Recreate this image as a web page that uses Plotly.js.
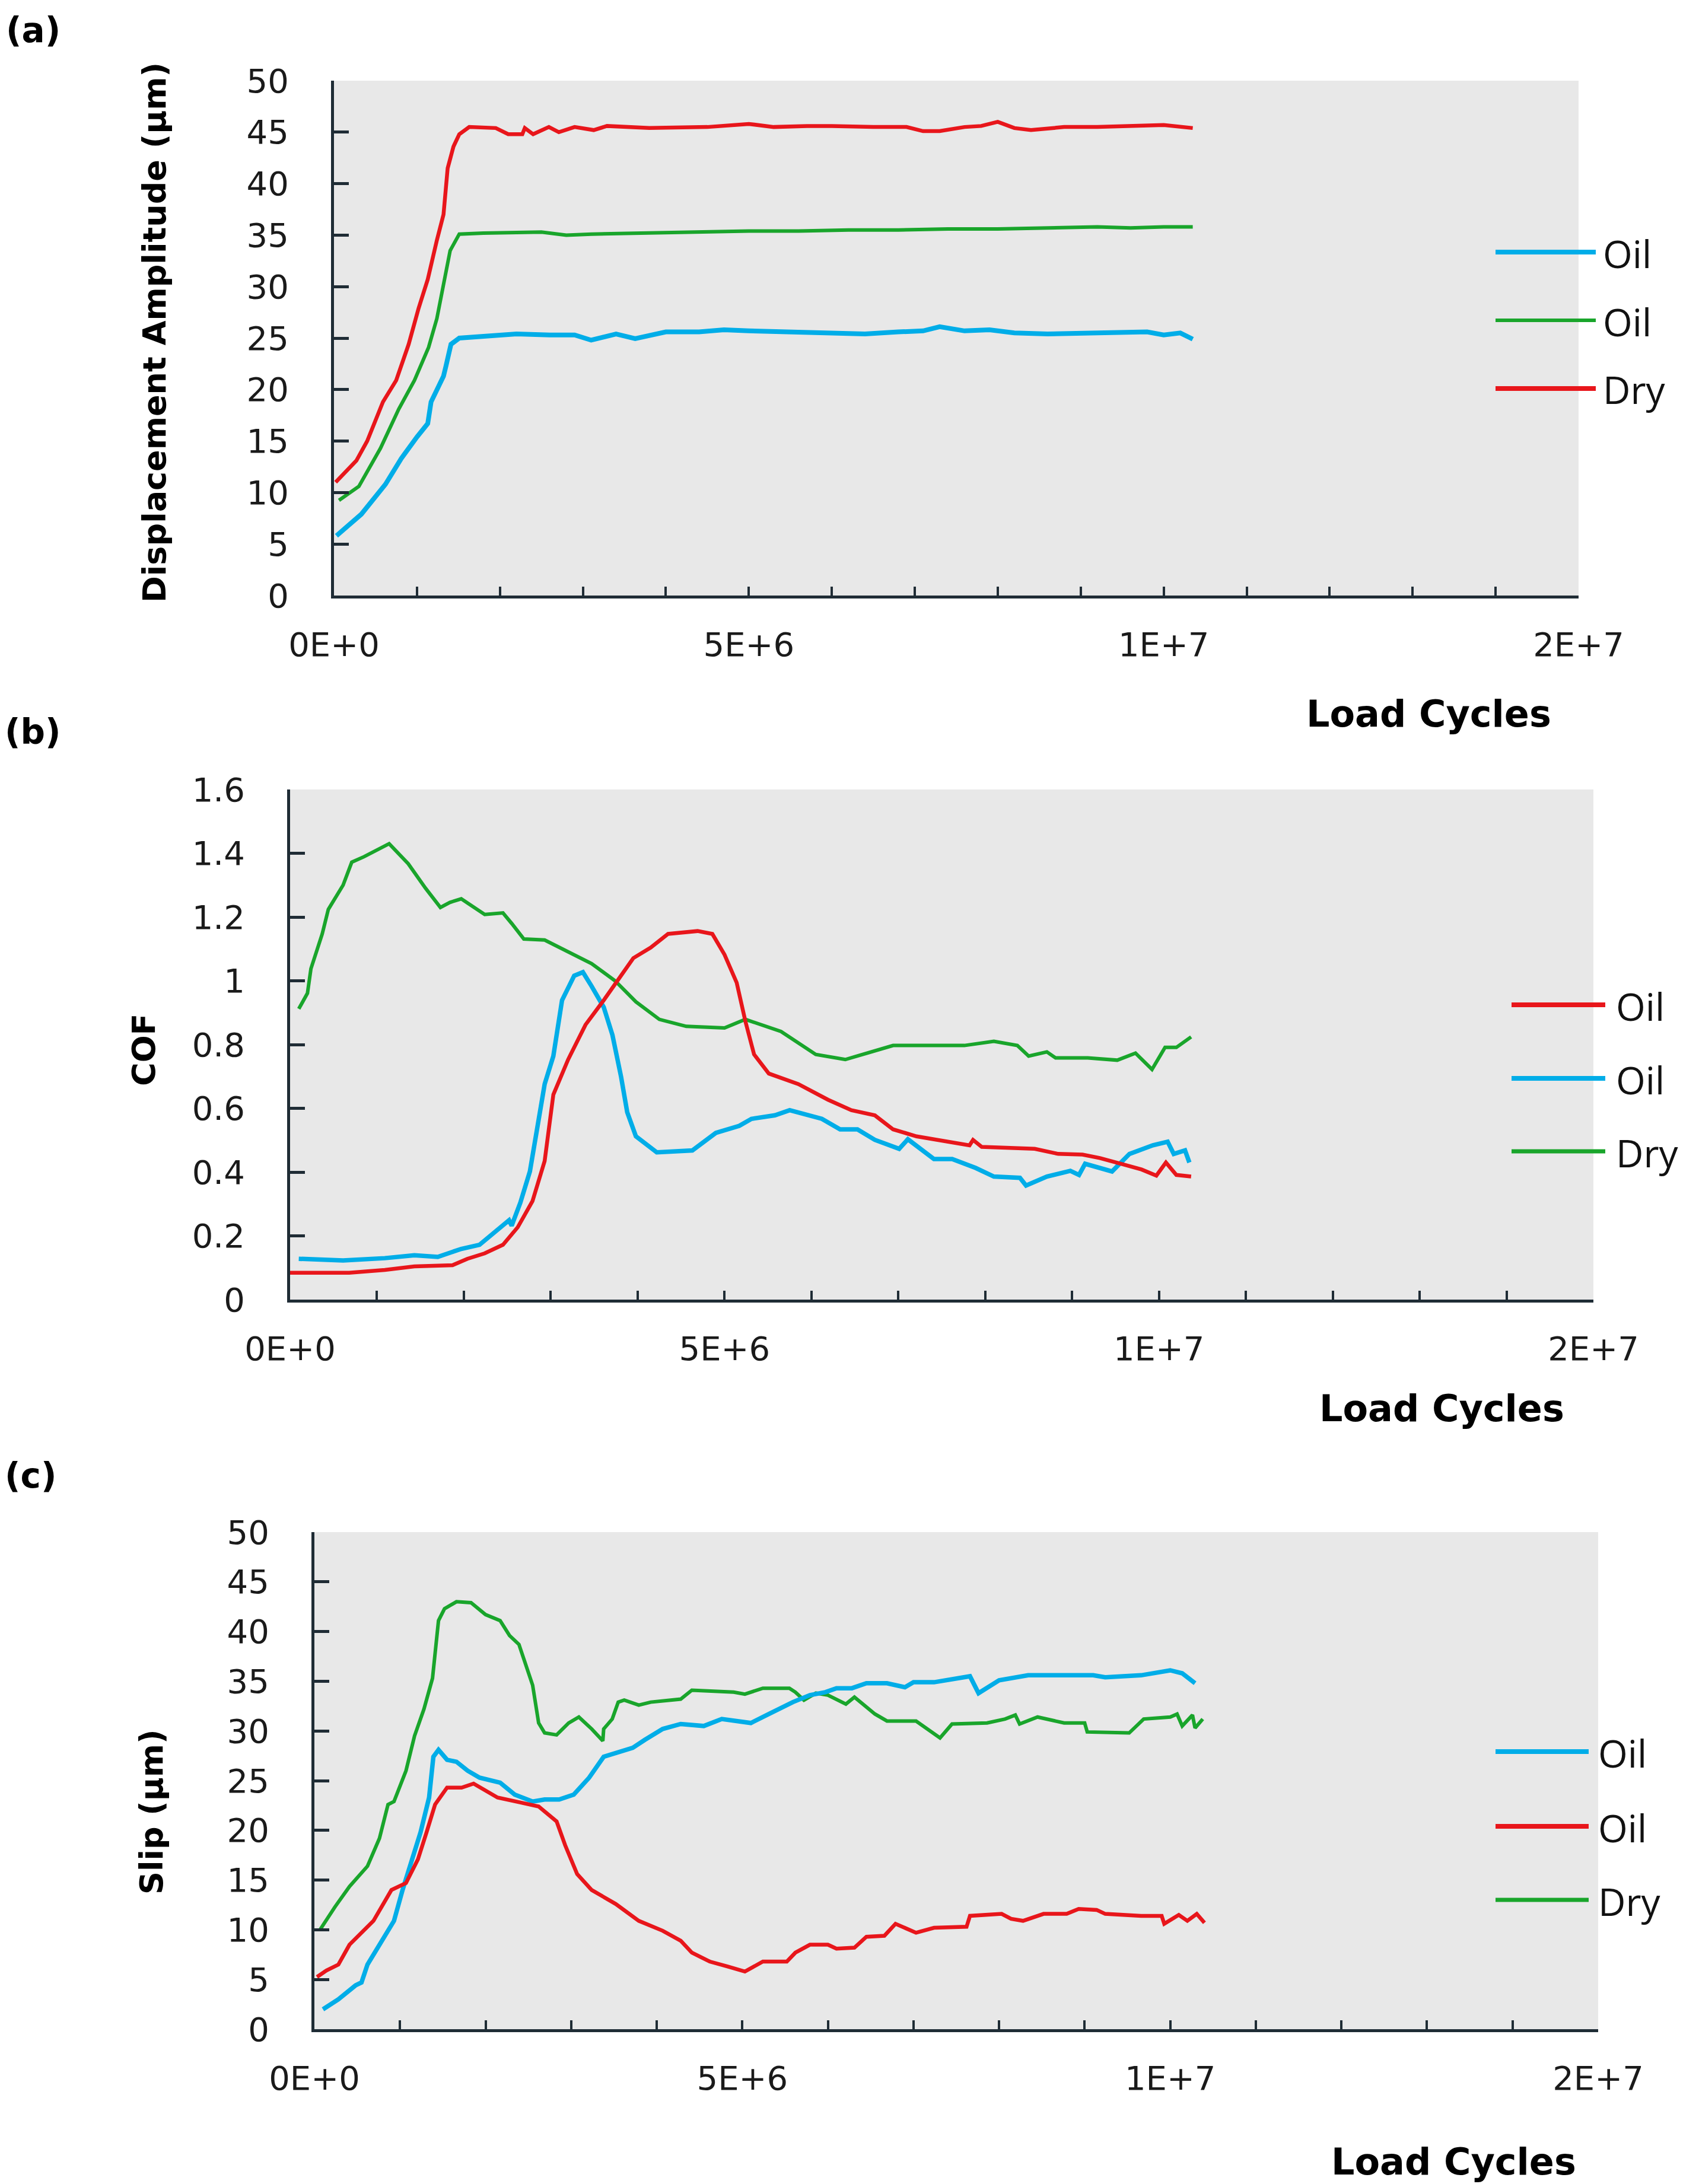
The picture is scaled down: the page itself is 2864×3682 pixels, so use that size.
<!DOCTYPE html>
<html>
<head>
<meta charset="utf-8">
<script src="https://cdn.plot.ly/plotly-3.0.1.min.js"></script>
<style>html,body{margin:0;padding:0;background:#fff;} #chart{width:2864px;height:3682px;}</style>
</head>
<body>
<div id="chart"></div>
<script>
// ---------------- DATA ----------------
// Panel (a) Displacement Amplitude (µm)
const aOilBlueX = [0.03e6,0.33e6,0.62e6,0.81e6,1.0e6,1.13e6,1.17e6,1.32e6,1.35e6,1.41e6,1.51e6,1.79e6,2.2e6,2.6e6,2.9e6,3.1e6,3.4e6,3.63e6,4.0e6,4.4e6,4.7e6,5.0e6,5.5e6,5.9e6,6.4e6,6.8e6,7.1e6,7.3e6,7.6e6,7.9e6,8.2e6,8.6e6,9.0e6,9.4e6,9.8e6,10.0e6,10.2e6,10.35e6];
const aOilBlueY = [5.8,7.9,10.8,13.3,15.4,16.7,18.8,21.3,22.3,24.4,25.0,25.2,25.4,25.3,25.3,24.8,25.4,24.95,25.6,25.6,25.8,25.7,25.6,25.5,25.4,25.6,25.7,26.1,25.7,25.8,25.5,25.4,25.5,25.5,25.6,25.3,25.5,24.9];

const aOilGreenX = [0.06e6,0.3e6,0.56e6,0.78e6,0.97e6,1.14e6,1.24e6,1.32e6,1.4e6,1.51e6,1.8e6,2.5e6,2.8e6,3.1e6,3.6e6,4.2e6,5.0e6,5.6e6,6.2e6,6.8e6,7.4e6,8.0e6,8.6e6,9.2e6,9.6e6,10.0e6,10.35e6];
const aOilGreenY = [9.25,10.6,14.3,18.1,20.9,24.1,26.9,30.0,33.5,35.1,35.2,35.3,35.0,35.1,35.2,35.3,35.4,35.4,35.5,35.5,35.6,35.6,35.7,35.8,35.7,35.8,35.8];

const aDryX = [0.02e6,0.27e6,0.4e6,0.59e6,0.75e6,0.9e6,1.02e6,1.13e6,1.24e6,1.32e6,1.37e6,1.44e6,1.51e6,1.63e6,1.95e6,2.1e6,2.27e6,2.3e6,2.4e6,2.59e6,2.71e6,2.9e6,3.13e6,3.29e6,3.8e6,4.5e6,5.0e6,5.3e6,5.7e6,6.0e6,6.5e6,6.9e6,7.1e6,7.3e6,7.6e6,7.8e6,8.0e6,8.2e6,8.4e6,8.8e6,9.2e6,9.6e6,10.0e6,10.35e6];
const aDryY = [11.0,13.1,15.0,18.8,20.9,24.4,27.9,30.7,34.5,37.0,41.5,43.6,44.8,45.5,45.4,44.8,44.8,45.4,44.8,45.5,45.0,45.5,45.2,45.6,45.4,45.5,45.8,45.5,45.6,45.6,45.5,45.5,45.1,45.1,45.5,45.6,46.0,45.4,45.2,45.5,45.5,45.6,45.7,45.4];

// Panel (b) COF
const bOilRedX = [0,0.68e6,1.09e6,1.43e6,1.87e6,2.04e6,2.24e6,2.45e6,2.62e6,2.79e6,2.93e6,3.03e6,3.2e6,3.4e6,3.61e6,3.78e6,3.95e6,4.15e6,4.35e6,4.69e6,4.86e6,5.0e6,5.14e6,5.24e6,5.34e6,5.51e6,5.85e6,6.19e6,6.46e6,6.73e6,6.94e6,7.21e6,7.55e6,7.82e6,7.86e6,7.96e6,8.57e6,8.84e6,9.12e6,9.32e6,9.59e6,9.8e6,9.97e6,10.08e6,10.2e6,10.37e6];
const bOilRedY = [0.084,0.084,0.093,0.104,0.108,0.128,0.145,0.172,0.227,0.309,0.435,0.643,0.753,0.862,0.939,1.005,1.071,1.104,1.147,1.156,1.147,1.082,0.994,0.873,0.769,0.709,0.676,0.627,0.594,0.578,0.534,0.512,0.495,0.484,0.501,0.479,0.473,0.457,0.455,0.444,0.424,0.408,0.389,0.43,0.391,0.386];

const bOilBlueX = [0.1e6,0.61e6,1.09e6,1.43e6,1.7e6,1.97e6,2.18e6,2.38e6,2.52e6,2.55e6,2.65e6,2.76e6,2.86e6,2.93e6,3.03e6,3.13e6,3.27e6,3.37e6,3.47e6,3.61e6,3.71e6,3.81e6,3.88e6,3.98e6,4.22e6,4.63e6,4.9e6,5.17e6,5.31e6,5.58e6,5.75e6,5.92e6,6.12e6,6.33e6,6.53e6,6.73e6,7.01e6,7.11e6,7.28e6,7.41e6,7.62e6,7.89e6,8.1e6,8.4e6,8.47e6,8.71e6,8.98e6,9.08e6,9.15e6,9.46e6,9.66e6,9.93e6,10.1e6,10.17e6,10.3e6,10.35e6];
const bOilBlueY = [0.128,0.123,0.130,0.139,0.134,0.159,0.172,0.216,0.249,0.232,0.304,0.402,0.567,0.676,0.764,0.939,1.016,1.027,0.983,0.917,0.83,0.698,0.588,0.512,0.462,0.468,0.523,0.545,0.567,0.578,0.594,0.583,0.567,0.534,0.534,0.501,0.473,0.503,0.468,0.441,0.441,0.413,0.386,0.382,0.358,0.386,0.404,0.391,0.426,0.402,0.457,0.484,0.495,0.457,0.468,0.43];

const bDryX = [0.1e6,0.2e6,0.24e6,0.37e6,0.44e6,0.61e6,0.71e6,0.85e6,1.14e6,1.36e6,1.56e6,1.73e6,1.84e6,1.97e6,2.24e6,2.45e6,2.55e6,2.69e6,2.93e6,3.1e6,3.47e6,3.74e6,3.98e6,4.25e6,4.56e6,5.0e6,5.24e6,5.65e6,6.05e6,6.39e6,6.73e6,6.94e6,7.76e6,8.1e6,8.37e6,8.5e6,8.71e6,8.81e6,9.18e6,9.52e6,9.73e6,9.92e6,10.07e6,10.2e6,10.37e6];
const bDryY = [0.912,0.961,1.038,1.147,1.224,1.30,1.372,1.389,1.430,1.367,1.29,1.23,1.246,1.257,1.208,1.213,1.18,1.131,1.128,1.104,1.054,1.0,0.934,0.879,0.857,0.852,0.879,0.841,0.769,0.753,0.78,0.797,0.797,0.81,0.797,0.764,0.777,0.758,0.758,0.751,0.773,0.722,0.791,0.791,0.824];

// Panel (c) Slip (µm)
const cOilBlueX = [0.1e6,0.28e6,0.48e6,0.55e6,0.62e6,0.76e6,0.93e6,1.03e6,1.14e6,1.24e6,1.34e6,1.39e6,1.45e6,1.55e6,1.66e6,1.79e6,1.93e6,2.17e6,2.34e6,2.55e6,2.69e6,2.86e6,3.03e6,3.21e6,3.38e6,3.55e6,3.72e6,3.86e6,4.07e6,4.28e6,4.55e6,4.76e6,5.1e6,5.31e6,5.59e6,5.79e6,5.97e6,6.1e6,6.28e6,6.45e6,6.69e6,6.9e6,7.0e6,7.24e6,7.38e6,7.66e6,7.76e6,8.0e6,8.34e6,9.1e6,9.24e6,9.66e6,10.0e6,10.14e6,10.29e6];
const cOilBlueY = [2.0,3.0,4.4,4.7,6.5,8.5,10.9,14.0,17.1,19.8,23.3,27.4,28.1,27.1,26.9,26.0,25.3,24.8,23.6,22.9,23.1,23.1,23.6,25.3,27.4,27.9,28.3,29.1,30.2,30.7,30.5,31.2,30.8,31.7,32.9,33.6,33.9,34.3,34.3,34.8,34.8,34.4,34.9,34.9,35.1,35.5,33.8,35.1,35.6,35.6,35.4,35.6,36.1,35.8,34.8];

const cOilRedX = [0.03e6,0.14e6,0.28e6,0.41e6,0.69e6,0.9e6,1.07e6,1.21e6,1.31e6,1.41e6,1.55e6,1.72e6,1.86e6,2.0e6,2.14e6,2.41e6,2.62e6,2.83e6,2.93e6,3.07e6,3.24e6,3.52e6,3.79e6,4.07e6,4.28e6,4.41e6,4.62e6,4.83e6,5.03e6,5.24e6,5.52e6,5.62e6,5.79e6,6.0e6,6.1e6,6.31e6,6.45e6,6.66e6,6.79e6,7.03e6,7.24e6,7.62e6,7.66e6,8.03e6,8.14e6,8.28e6,8.52e6,8.79e6,8.93e6,9.14e6,9.24e6,9.66e6,9.9e6,9.93e6,10.1e6,10.2e6,10.31e6,10.4e6];
const cOilRedY = [5.25,5.9,6.5,8.5,10.9,14.0,14.7,17.1,19.8,22.6,24.3,24.3,24.7,24.0,23.3,22.8,22.4,20.9,18.5,15.6,14.0,12.6,10.9,9.9,8.9,7.7,6.8,6.3,5.8,6.8,6.8,7.7,8.5,8.5,8.1,8.2,9.3,9.4,10.6,9.7,10.2,10.3,11.4,11.6,11.1,10.9,11.6,11.6,12.1,12.0,11.6,11.4,11.4,10.6,11.5,10.9,11.6,10.7];

const cDryX = [0.07e6,0.24e6,0.41e6,0.62e6,0.76e6,0.86e6,0.93e6,1.07e6,1.17e6,1.28e6,1.38e6,1.45e6,1.52e6,1.66e6,1.83e6,2.0e6,2.17e6,2.28e6,2.39e6,2.49e6,2.55e6,2.62e6,2.69e6,2.83e6,2.97e6,3.09e6,3.24e6,3.37e6,3.38e6,3.48e6,3.55e6,3.62e6,3.79e6,3.93e6,4.28e6,4.41e6,4.9e6,5.03e6,5.24e6,5.55e6,5.62e6,5.72e6,5.86e6,6.0e6,6.21e6,6.31e6,6.55e6,6.69e6,7.03e6,7.31e6,7.45e6,7.86e6,8.07e6,8.19e6,8.24e6,8.45e6,8.76e6,9.0e6,9.03e6,9.52e6,9.69e6,10.0e6,10.08e6,10.14e6,10.26e6,10.29e6,10.38e6];
const cDryY = [10.06,12.3,14.35,16.4,19.2,22.6,22.9,26.0,29.5,32.2,35.3,41.1,42.3,43.0,42.9,41.7,41.1,39.6,38.7,36.3,34.6,30.8,29.8,29.6,30.8,31.4,30.2,29.0,30.2,31.2,32.9,33.1,32.6,32.9,33.2,34.1,33.9,33.7,34.3,34.3,33.9,33.1,33.8,33.6,32.7,33.4,31.7,31.0,31.0,29.3,30.7,30.8,31.2,31.6,30.7,31.4,30.8,30.8,29.9,29.8,31.2,31.4,31.7,30.5,31.6,30.3,31.2];

// Tick labels
const xTickVals = [0,1e6,2e6,3e6,4e6,5e6,6e6,7e6,8e6,9e6,10e6,11e6,12e6,13e6,14e6,15e6];
const xTickText = ['0E+0','','','','','5E+6','','','','','1E+7','','','','','2E+7'];
const panelLabels = ['(a)','(b)','(c)'];
const yTitles = ['Displacement Amplitude (µm)','COF','Slip (µm)'];
const xTitle = 'Load Cycles';
const legendA = ['Oil','Oil','Dry'];
const legendB = ['Oil','Oil','Dry'];
const legendC = ['Oil','Oil','Dry'];

// ---------------- STYLE ----------------
const W = 2864, H = 3682;
const BLUE = '#00ADE8', GREEN = '#19A52B', RED = '#E8161B';
const AX = '#1f2c35';
const FONT = 'DejaVu Sans';
const fx = p => p / W;
const fy = p => 1 - p / H;

function tr(x, y, color, width, xa, ya) {
  return {x: x, y: y, type: 'scatter', mode: 'lines', xaxis: xa, yaxis: ya,
          line: {color: color, width: width, shape: 'linear'}, showlegend: false, hoverinfo: 'skip'};
}

const data = [
  tr(aOilBlueX, aOilBlueY, BLUE, 8, 'x', 'y'),
  tr(aOilGreenX, aOilGreenY, GREEN, 6, 'x', 'y'),
  tr(aDryX, aDryY, RED, 6.5, 'x', 'y'),
  tr(bDryX, bDryY, GREEN, 6, 'x2', 'y2'),
  tr(bOilBlueX, bOilBlueY, BLUE, 7.5, 'x2', 'y2'),
  tr(bOilRedX, bOilRedY, RED, 6.5, 'x2', 'y2'),
  tr(cDryX, cDryY, GREEN, 6, 'x3', 'y3'),
  tr(cOilBlueX, cOilBlueY, BLUE, 7.5, 'x3', 'y3'),
  tr(cOilRedX, cOilRedY, RED, 6.5, 'x3', 'y3')
];

function xax(l, r, anchor) {
  return {domain: [fx(l), fx(r)], anchor: anchor, range: [0, 1.5e7], tickmode: 'array',
          tickvals: xTickVals, ticktext: xTickText, ticks: 'inside', ticklen: 15, tickwidth: 4,
          tickcolor: AX, showline: true, linecolor: AX, linewidth: 5, showgrid: false, zeroline: false,
          ticklabelstandoff: 30, tickfont: {family: FONT, size: 56, color: '#1a1a1a'}};
}
function yax(t, b, anchor, max, dt) {
  return {domain: [fy(b), fy(t)], anchor: anchor, range: [0, max], tickmode: 'linear', tick0: 0, dtick: dt,
          ticks: 'inside', ticklen: 25, tickwidth: 5, tickcolor: AX, showline: true, linecolor: AX, linewidth: 5,
          showgrid: false, zeroline: false, ticklabelstandoff: 60,
          tickfont: {family: FONT, size: 56, color: '#1a1a1a'}};
}

const annotations = [];
const shapes = [];
function ann(text, x, y, opts) {
  annotations.push(Object.assign({text: text, x: fx(x), y: fy(y), xref: 'paper', yref: 'paper',
    showarrow: false, xanchor: 'center', yanchor: 'middle'}, opts));
}
// panel labels
[[8, 51], [6, 1234], [6, 2488]].forEach((p, i) =>
  ann(panelLabels[i], p[0], p[1], {xanchor: 'left', font: {family: FONT, size: 58, weight: 'bold', color: '#000'}}));
// y titles
[[261, 561], [242, 1770], [255, 3055]].forEach((p, i) =>
  ann(yTitles[i], p[0], p[1], {textangle: -90, font: {family: FONT, size: 54, weight: 'bold', color: '#000'}}));
// x titles
[[2408, 1203], [2430, 2374], [2450, 3644]].forEach(p =>
  ann(xTitle, p[0], p[1], {font: {family: FONT, size: 62, weight: 'bold', color: '#000'}}));

// custom legends (long line samples as in the original)
function legend(labels, colors, widths, x0, x1, tx, ys) {
  labels.forEach((lab, i) => {
    shapes.push({type: 'line', xref: 'paper', yref: 'paper', x0: fx(x0), x1: fx(x1), y0: fy(ys[i]), y1: fy(ys[i]),
                 line: {color: colors[i], width: widths[i]}});
    ann(lab, tx, ys[i] + 2, {xanchor: 'left', font: {family: 'Open Sans', size: 64, color: '#111'}});
  });
}
legend(legendA, [BLUE, GREEN, RED], [8, 6, 8], 2521, 2690, 2700, [425, 540, 655]);
legend(legendB, [RED, BLUE, GREEN], [8, 8, 7], 2548, 2706, 2722, [1694, 1818, 1941]);
legend(legendC, [BLUE, RED, GREEN], [8, 8, 7], 2521, 2678, 2692, [2953, 3079, 3203]);

const layout = {
  width: W, height: H, margin: {l: 0, r: 0, t: 0, b: 0, pad: 0},
  paper_bgcolor: '#ffffff', plot_bgcolor: '#E8E8E8', showlegend: false,
  xaxis: xax(563, 2661, 'y'),
  yaxis: yax(136, 1004, 'x', 50, 5),
  xaxis2: xax(489, 2686, 'y2'),
  yaxis2: yax(1331, 2191, 'x2', 1.6, 0.2),
  xaxis3: xax(530, 2694, 'y3'),
  yaxis3: yax(2583, 3421, 'x3', 50, 5),
  annotations: annotations,
  shapes: shapes
};

Plotly.newPlot('chart', data, layout, {staticPlot: true, displayModeBar: false});
</script>
</body>
</html>
